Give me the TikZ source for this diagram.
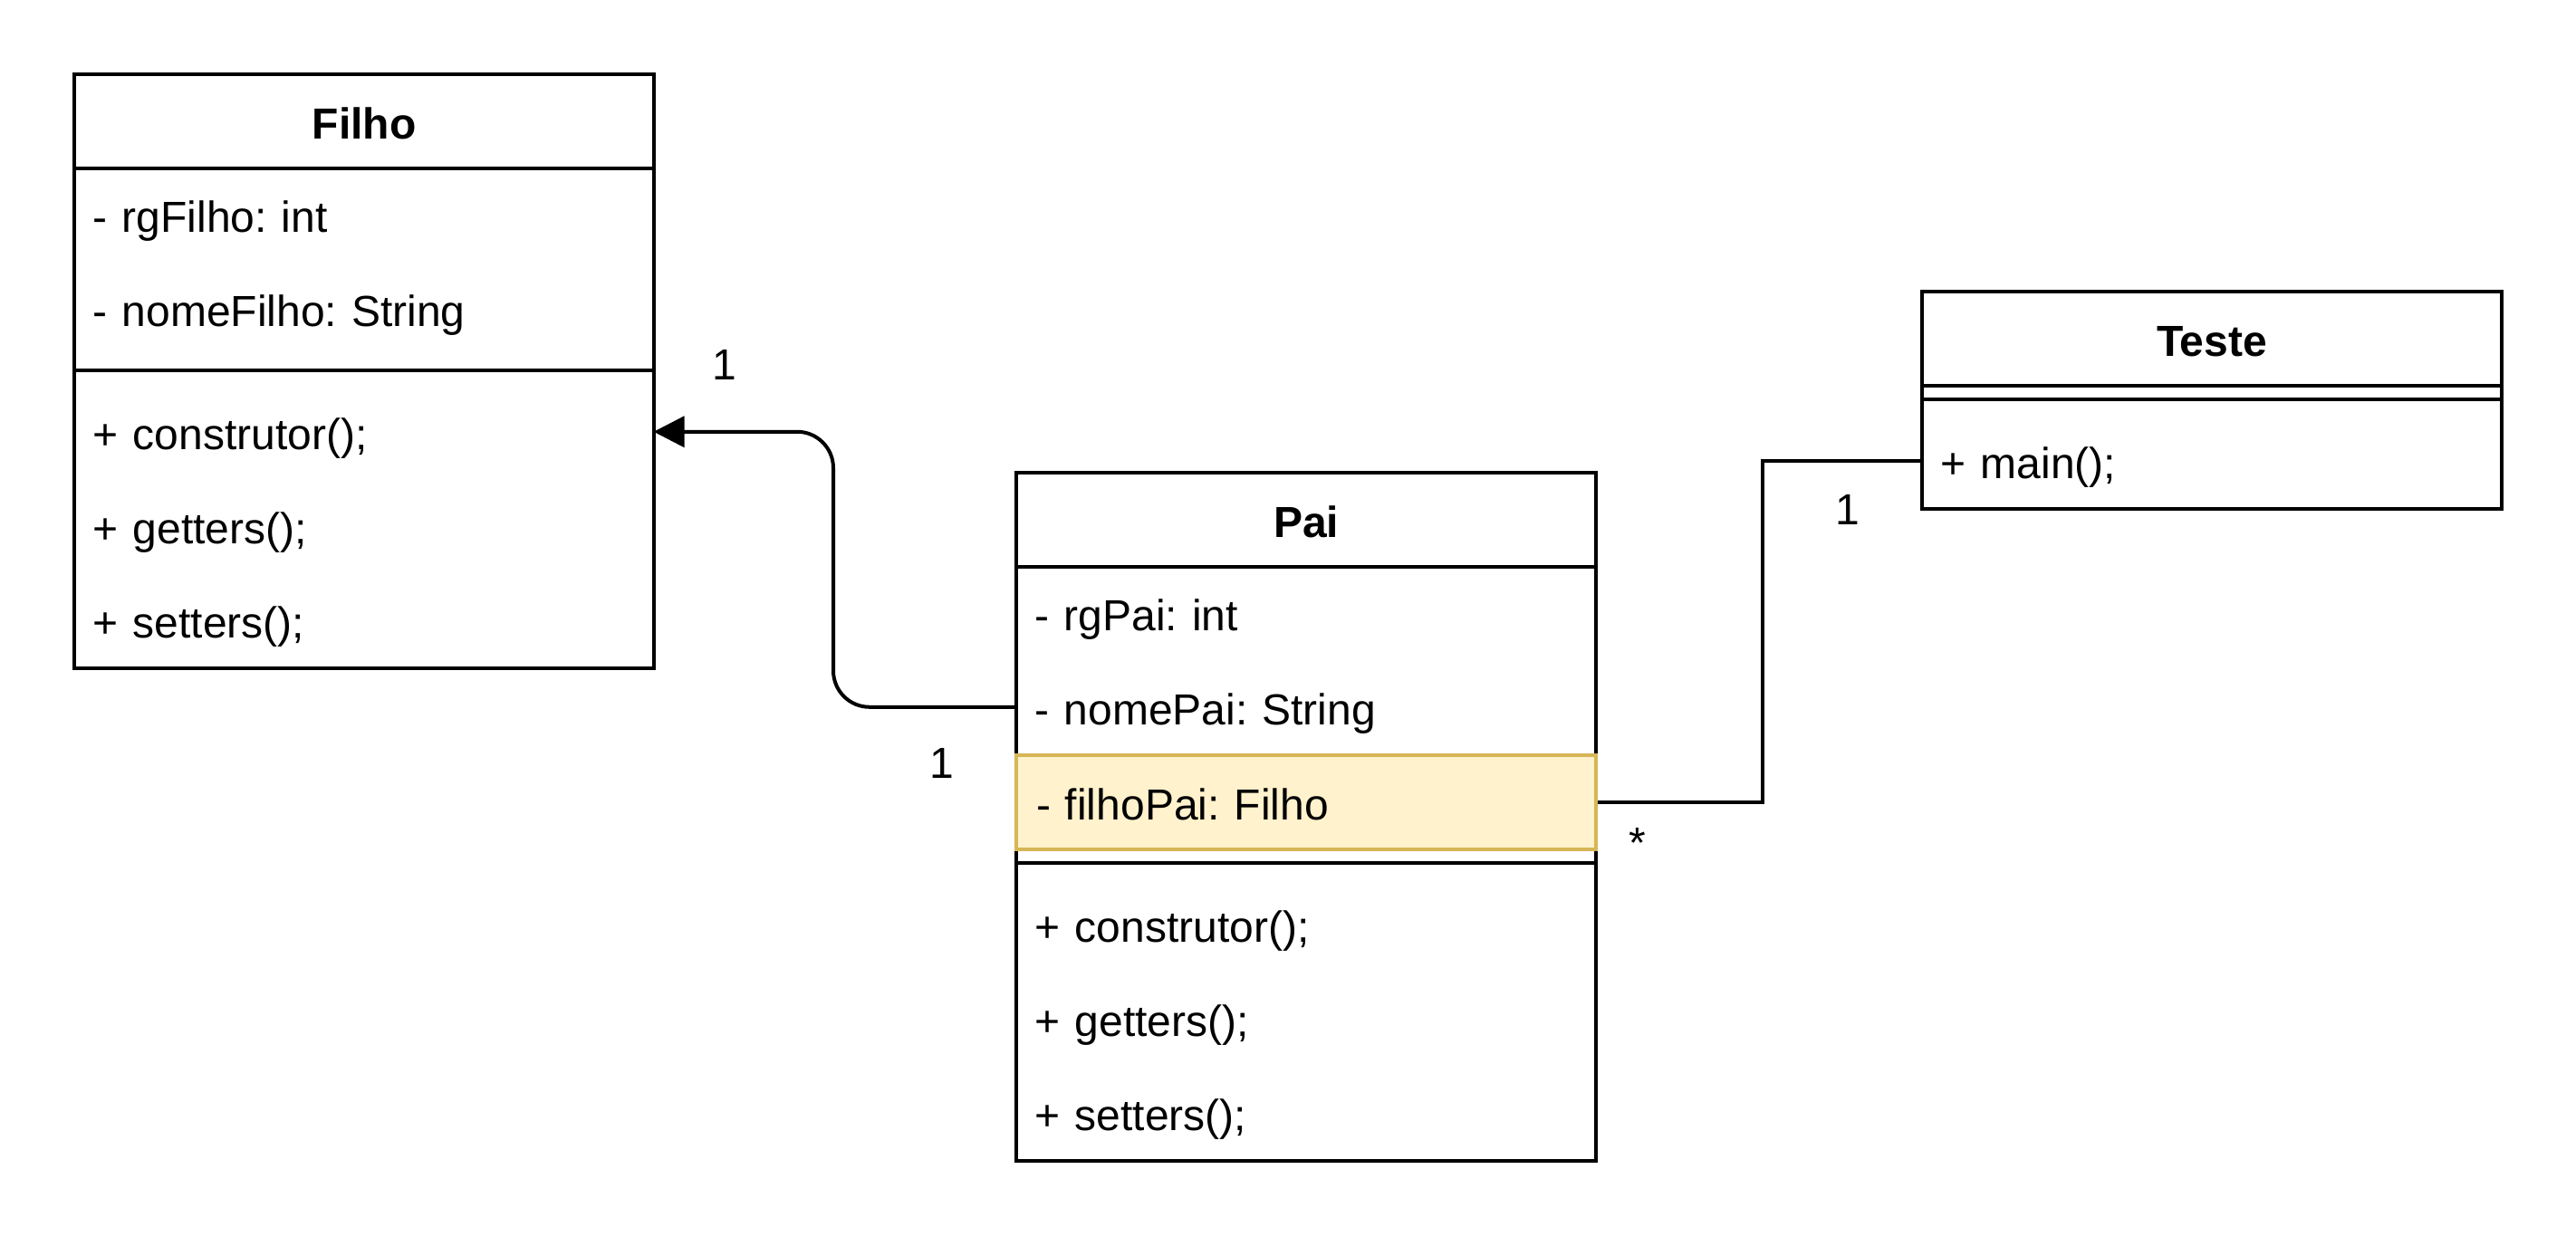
\documentclass[tikz,border=0pt]{standalone}
\usepackage{fontspec}
\setmainfont{Liberation Sans}
\usetikzlibrary{arrows.meta,calc}
\definecolor{hlfill}{HTML}{FFF2CC}
\definecolor{hldraw}{HTML}{D6B656}
\frenchspacing
\tikzset{
  box/.style={draw, line width=1pt, anchor=north west, minimum width=160pt, inner sep=0pt, fill=white},
  head/.style={box, minimum height=26pt, text height=11pt, text depth=1pt, font=\fontsize{12pt}{14pt}\selectfont\bfseries},
  row/.style={anchor=north west, minimum height=26pt, text width=149pt, inner xsep=5.5pt, inner ysep=0pt, align=left, text height=11pt, text depth=1pt, font=\fontsize{12pt}{14pt}\selectfont\frenchspacing},
  hlrow/.style={row, draw=hldraw, fill=hlfill, line width=1pt},
  sepbox/.style={anchor=north west, minimum width=160pt, minimum height=8pt, inner sep=0pt},
  conn/.style={line width=1pt, draw=black},
  mult/.style={anchor=base, inner sep=0pt, font=\fontsize{12pt}{14pt}\selectfont},
}
\begin{document}
\begin{tikzpicture}[x=1pt,y=-1pt]
\useasboundingbox (0,0) rectangle (711,344);
% ---------- Filho ----------
\node[box, minimum height=164pt] (filho) at (20,20) {};
\node[head] (filhoH) at (20,20) {Filho};
\node[row] (filhoA1) at (20,46) {- rgFilho: int};
\node[row] (filhoA2) at (20,72) {- nomeFilho: String};
\node[sepbox] (filhoS) at (20,98) {};
\draw[line width=1pt] (filhoS.west) -- (filhoS.east);
\node[row] (filhoM1) at (20,106) {+ construtor();};
\node[row] (filhoM2) at (20,132) {+ getters();};
\node[row] (filhoM3) at (20,158) {+ setters();};
% ---------- Pai ----------
\node[box, minimum height=190pt] (pai) at (280,130) {};
\node[head] (paiH) at (280,130) {Pai};
\node[row] (paiA1) at (280,156) {- rgPai: int};
\node[row] (paiA2) at (280,182) {- nomePai: String};
\node[hlrow] (paiA3) at (280,208) {- filhoPai: Filho};
\node[sepbox] (paiS) at (280,234) {};
\draw[line width=1pt] (paiS.west) -- (paiS.east);
\node[row] (paiM1) at (280,242) {+ construtor();};
\node[row] (paiM2) at (280,268) {+ getters();};
\node[row] (paiM3) at (280,294) {+ setters();};
% ---------- Teste ----------
\node[box, minimum height=60pt] (teste) at (530,80) {};
\node[head] (testeH) at (530,80) {Teste};
\node[sepbox] (testeS) at (530,106) {};
\draw[line width=1pt] (testeS.west) -- (testeS.east);
\node[row] (testeM1) at (530,114) {+ main();};
% ---------- connectors ----------
\draw[conn, rounded corners=10pt, -{Triangle[length=8.5pt,width=8.5pt]}]
  (paiA2.west) -- ++(-50,0) |- (filhoM1.east);
\draw[conn] (paiA3.east) -- ++(45.5,0) |- (testeM1.west);
% ---------- multiplicities ----------
\node[mult] (m1) at (200,105) {1};
\node[mult] (m2) at (260,215) {1};
\node[mult] (m3) at (510,144.8) {1};
\node[mult] (m4) at (452,237) {*};
\end{tikzpicture}
\end{document}
